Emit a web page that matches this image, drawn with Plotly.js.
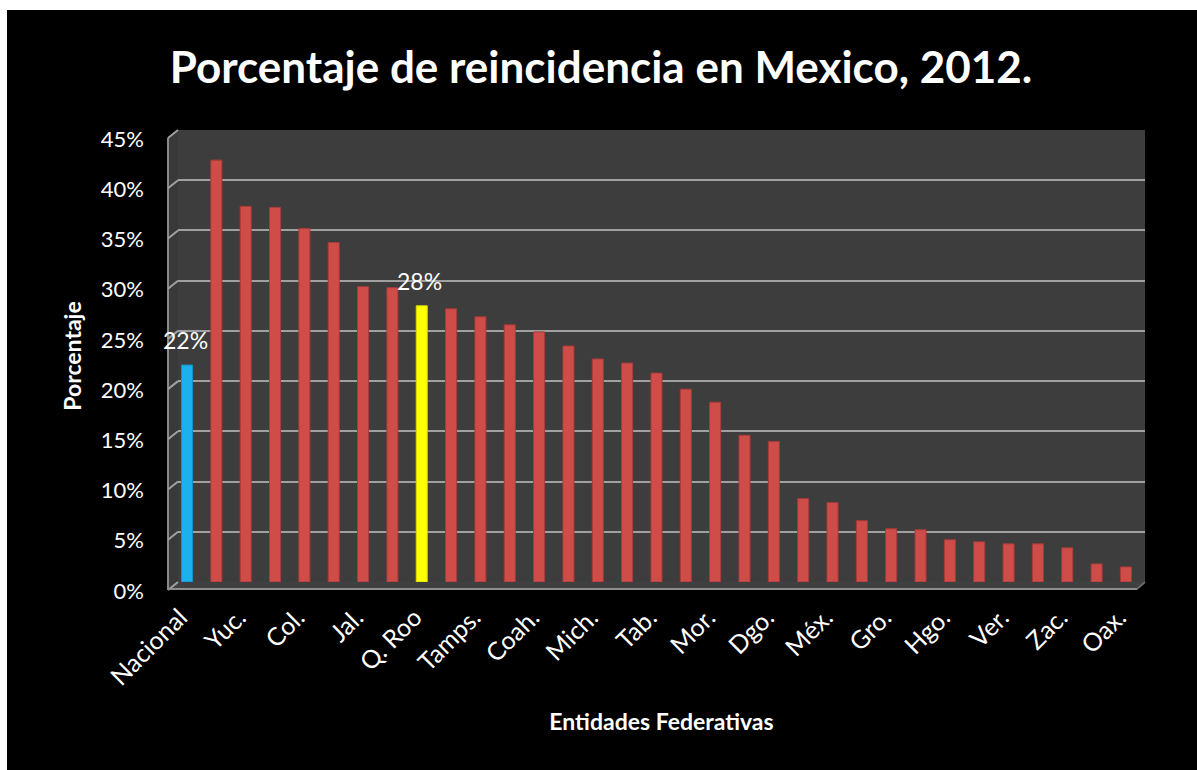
<!DOCTYPE html>
<html>
<head>
<meta charset="utf-8">
<script src="https://cdn.plot.ly/plotly-3.0.1.min.js"></script>
<style>
  html, body { margin: 0; padding: 0; background: #ffffff; width: 1197px; height: 770px; overflow: hidden; }
  #chart { position: absolute; left: 7px; top: 10px; width: 1190px; height: 760px; }
</style>
</head>
<body>
<div id="chart"></div>
<script>
// ---- data ----
const categories = [
  "Nacional", "Chih.", "Yuc.", "BC", "Col.", "Son.", "Jal.", "Nay.", "Q. Roo", "Ags.",
  "Tamps.", "DF", "Coah.", "Gto.", "Mich.", "Sin.", "Tab.", "BCS", "Mor.", "NL",
  "Dgo.", "Camp.", "Méx.", "Pue.", "Gro.", "Qro.", "Hgo.", "SLP", "Ver.", "Chis.",
  "Zac.", "Tlax.", "Oax."
];
const values = [
  21.6, 42.0, 37.4, 37.3, 35.2, 33.8, 29.4, 29.3, 27.5, 27.2,
  26.4, 25.6, 24.9, 23.5, 22.2, 21.8, 20.8, 19.2, 17.9, 14.6,
  14.0, 8.3, 7.9, 6.1, 5.3, 5.2, 4.2, 4.0, 3.8, 3.8,
  3.4, 1.8, 1.5
];
const shownLabels = categories.filter((c, i) => i % 2 === 0);
const highlighted = { "Nacional": "#1cb0ee", "Q. Roo": "#ffff00" };
const baseColor = "#cf4d49";
const yTicks = [0, 5, 10, 15, 20, 25, 30, 35, 40, 45];

const colors = categories.map(c => highlighted[c] || baseColor);
const lineColors = categories.map(c => c === "Nacional" ? "#1592c4" : (c === "Q. Roo" ? "#d8d800" : "#a83c38"));

const FONT = "Lato, 'Open Sans', sans-serif";

// geometry helpers for the decorative 3D walls (paper coordinates)
const W = 967, H = 452;
const dx = -10 / W;
const dy = -8 / H;

const shapes = [];
shapes.push({
  type: "path", xref: "paper", yref: "paper", layer: "below",
  path: `M ${dx},${dy} L 0,0 L 0,1 L ${dx},${1 + dy} Z`,
  fillcolor: "#393939", line: { width: 0 }
});
shapes.push({
  type: "path", xref: "paper", yref: "paper", layer: "below",
  path: `M ${dx},${dy} L 0,0 L 1,0 L ${1 - 8 / W},${dy} Z`,
  fillcolor: "#404040", line: { width: 0 }
});
shapes.push({
  type: "line", xref: "paper", yref: "paper", layer: "above",
  x0: dx, x1: 1 - 8 / W, y0: dy + 1 / H, y1: dy + 1 / H,
  line: { color: "#8e8e8e", width: 2 }
});
shapes.push({
  type: "line", xref: "paper", yref: "paper", layer: "above",
  x0: 1 - 8 / W, x1: 1, y0: dy + 1 / H, y1: 0,
  line: { color: "#6a6a6a", width: 2 }
});
shapes.push({
  type: "line", xref: "paper", yref: "paper", layer: "below",
  x0: dx, x1: dx, y0: dy, y1: 1 + dy,
  line: { color: "#8a8a8a", width: 2 }
});
yTicks.forEach(v => {
  const f = v / 45;
  shapes.push({
    type: "line", xref: "paper", yref: "paper", layer: "below",
    x0: dx, x1: 0, y0: f + dy, y1: f,
    line: { color: "#a0a0a0", width: 2 }
  });
});

const annotations = categories
  .map((c, i) => ({ c, v: values[i] }))
  .filter(d => highlighted[d.c])
  .map(d => ({
    x: d.c, y: d.v, xref: "x", yref: "y",
    text: Math.round(d.v) + "%", showarrow: false,
    yanchor: "middle", xanchor: "center", yshift: 25, xshift: -2,
    font: { family: FONT, size: 23, color: "#ffffff" }
  }));

const trace = {
  type: "bar",
  x: categories,
  y: values,
  marker: { color: colors, line: { color: lineColors, width: 1 } },
  hoverinfo: "x+y"
};

const layout = {
  width: 1190, height: 760,
  paper_bgcolor: "#000000",
  plot_bgcolor: "#3d3d3d",
  margin: { l: 171, r: 52, t: 120, b: 188 },
  showlegend: false,
  bargap: 0.625,
  font: { family: FONT, color: "#ffffff" },
  title: {
    text: "<b>Porcentaje de reincidencia en Mexico, 2012.</b>",
    font: { family: FONT, size: 44, color: "#ffffff" },
    x: 594 / 1190, xref: "container", xanchor: "center",
    y: 1 - 58 / 760, yref: "container", yanchor: "middle"
  },
  xaxis: {
    type: "category",
    categoryorder: "array", categoryarray: categories,
    range: [-0.307, 32.65],
    tickmode: "array", tickvals: shownLabels, ticktext: shownLabels,
    tickangle: -45,
    tickfont: { family: FONT, size: 25, color: "#ffffff" },
    showgrid: false, zeroline: false, showline: false, ticks: "",
    ticklabelstandoff: 15,
    ticklabelshift: -7,
    title: {
      text: "<b>Entidades Federativas</b>",
      font: { family: FONT, size: 23, color: "#ffffff" },
      standoff: 24
    }
  },
  yaxis: {
    range: [0, 45],
    tickmode: "array", tickvals: yTicks, ticktext: yTicks.map(v => v + "%"),
    tickfont: { family: FONT, size: 22, color: "#ffffff" },
    showgrid: true, gridcolor: "#a0a0a0", gridwidth: 2,
    zeroline: false, showline: false, ticks: "",
    ticklabelshift: 9,
    ticklabelstandoff: 33,
    title: {
      text: "<b>Porcentaje</b>",
      font: { family: FONT, size: 23, color: "#ffffff" },
      standoff: 12
    }
  },
  shapes: shapes,
  annotations: annotations
};

Plotly.newPlot("chart", [trace], layout, { displayModeBar: false, responsive: false });
</script>
</body>
</html>
